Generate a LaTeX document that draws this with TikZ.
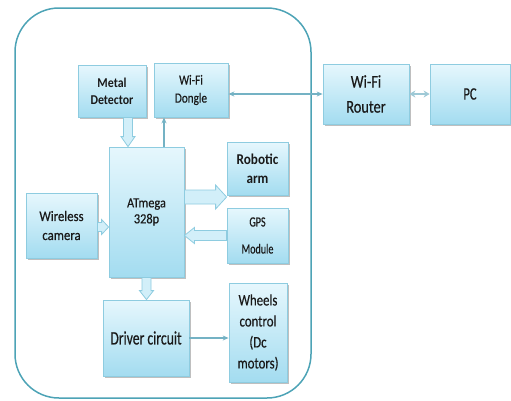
\documentclass[tikz,border=0pt]{standalone}
\usepackage{fontspec}
\setmainfont{Carlito}[FakeStretch=0.88]
\newfontfamily\regfont{Carlito}[FakeStretch=0.88, FakeBold=0.4]
\newfontfamily\midfont{Carlito}[FakeStretch=0.8, FakeBold=0.4]
\newfontfamily\narrowfont{Carlito}[FakeStretch=0.72, FakeBold=0.4]
\usetikzlibrary{arrows.meta,calc,shadows}

\definecolor{boxtop}{HTML}{E6F7FD}
\definecolor{boxbot}{HTML}{A3DCF0}
\definecolor{boxline}{HTML}{8ECCE0}
\definecolor{frameline}{HTML}{4DA3B6}
\definecolor{wireline}{HTML}{74B2C4}
\definecolor{fatfill}{HTML}{D2EFF9}

\tikzset{
	block/.style={draw=boxline, line width=0.8pt, top color=boxtop, bottom color=boxbot,
		inner sep=0pt, align=center, text=black!90,
		drop shadow={shadow xshift=1.5pt, shadow yshift=-1.5pt, opacity=0.25, fill=black}},
	wire/.style={draw=wireline, line width=1.2pt},
	fat/.style={fill=fatfill, draw=boxline, line width=0.8pt},
}

% hohler Blockpfeil: Start, Ende, halbe Schaftbreite, halbe Spitzenbreite, Spitzenlaenge
\newcommand{\fatarrow}[5]{
	\coordinate (fatH) at ($(#2)!#5!(#1)$);
	\filldraw[fat] ($(#1)!#3!90:(#2)$) -- ($(fatH)!#3!90:(#2)$) -- ($(fatH)!#4!90:(#2)$)
		-- (#2) -- ($(fatH)!#4!-90:(#2)$) -- ($(fatH)!#3!-90:(#2)$) -- ($(#1)!#3!-90:(#2)$) -- cycle;
}

\begin{document}
\begin{tikzpicture}[x=1pt, y=-1pt]
	\useasboundingbox (0,0) rectangle (511,400);
	
	%Rahmen Roboter
	\draw[frameline, line width=1.5pt, rounded corners=44pt] (15,8) rectangle (311,398);
	
	%Bloecke
	\node[block, minimum width=68pt, minimum height=52pt, font=\bfseries\fontsize{13.5}{17}\selectfont] (metal) at (112,91) {Metal\\Detector};
	\node[block, minimum width=74pt, minimum height=54pt, font=\midfont\fontsize{14}{18}\selectfont] (dongle) at (191,90) {Wi-Fi\\Dongle};
	\node[block, minimum width=75pt, minimum height=130pt, font=\regfont\fontsize{14}{16}\selectfont] (mcu) at (146.5,212) {ATmega\\328p};
	\node[block, minimum width=61pt, minimum height=53pt, font=\bfseries\fontsize{15}{19}\selectfont] (robot) at (257.5,168.5) {Robotic\\arm};
	\node[block, minimum width=71pt, minimum height=65pt, font=\regfont\fontsize{14.5}{19}\selectfont] (camera) at (61.5,225.5) {Wireless\\camera};
	\node[block, minimum width=61pt, minimum height=55pt, font=\narrowfont\fontsize{14}{27}\selectfont] (gps) at (257.5,235.5) {GPS\\Module};
	\node[block, minimum width=86pt, minimum height=76pt, font=\narrowfont\fontsize{19}{22}\selectfont] (driver) at (146,338) {Driver circuit};
	\node[block, minimum width=58pt, minimum height=99pt, font=\midfont\fontsize{16}{21}\selectfont] (wheels) at (258,332.5) {Wheels\\control\\(Dc\\motors)};
	\node[block, minimum width=86pt, minimum height=60pt, font=\midfont\fontsize{18}{25}\selectfont] (router) at (366,94) {Wi-Fi\\Router};
	\node[block, minimum width=80pt, minimum height=60pt, font=\narrowfont\fontsize{17.5}{22}\selectfont] (pc) at (470,94) {PC};
	
	%Blockpfeile
	\coordinate (mdA) at ([xshift=16pt]metal.south);
	\coordinate (mdB) at (mdA |- mcu.north);
	\fatarrow{mdA}{mdB}{4.5pt}{7pt}{10pt}
	\coordinate (arA) at ([yshift=15pt]mcu.east);
	\coordinate (arB) at (arA -| robot.west);
	\fatarrow{arA}{arB}{7pt}{12pt}{11pt}
	\coordinate (gpA) at (gps.west);
	\coordinate (gpB) at (gpA -| mcu.east);
	\fatarrow{gpA}{gpB}{5pt}{8pt}{10pt}
	\coordinate (caA) at ([yshift=-1.5pt]camera.east);
	\coordinate (caB) at (caA -| mcu.west);
	\fatarrow{caA}{caB}{4.5pt}{7.5pt}{7pt}
	\coordinate (drA) at (mcu.south);
	\coordinate (drB) at (drA |- driver.north);
	\fatarrow{drA}{drB}{4.5pt}{7pt}{9pt}
	
	%duenne Pfeile
	\coordinate (dgA) at ([xshift=17.5pt]mcu.north);
	\draw[wire, -{Stealth[length=6pt, width=5pt]}] (dgA) -- (dgA |- dongle.south);
	\draw[wire, -{Stealth[length=6pt, width=5pt]}] (driver.east) -- (driver.east -| wheels.west);
	\draw[wire, {Stealth[length=6pt, width=5pt]}-{Stealth[length=6pt, width=5pt]}] (dongle.east |- router.west) -- (router.west);
	\draw[wire, line width=2pt, draw=wireline!70, {Stealth[length=6pt, width=7pt]}-{Stealth[length=6pt, width=7pt]}] (router.east) -- (pc.west);
\end{tikzpicture}
\end{document}
